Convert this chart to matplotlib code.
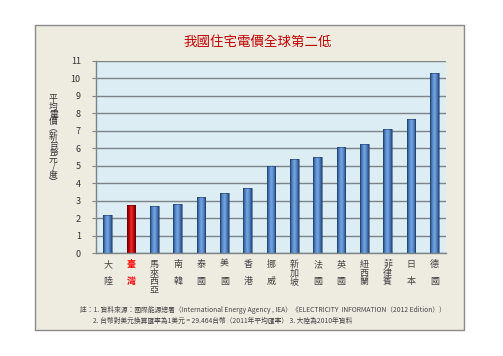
import matplotlib
matplotlib.use("Agg")
import matplotlib.pyplot as plt
import numpy as np
from matplotlib.patches import Rectangle
from matplotlib.colors import LinearSegmentedColormap

plt.rcParams['font.family'] = ['Noto Sans CJK TC', 'DejaVu Sans']

countries = ["大陸", "臺灣", "馬來西亞", "南韓", "泰國", "美國", "香港", "挪威",
             "新加坡", "法國", "英國", "紐西蘭", "菲律賓", "日本", "德國"]
prices = [2.2, 2.75, 2.72, 2.78, 3.2, 3.45, 3.75, 5.0, 5.38, 5.5, 6.05, 6.25, 7.12, 7.68, 10.33]
highlight = "臺灣"
yticks = list(range(0, 12))
title = "我國住宅電價全球第二低"
ylabel_chars = ["平", "均", "電", "價", "︵", "新", "台", "幣", "元", "/", "度", "︶"]
note1 = "註：1. 資料來源：國際能源總署（International Energy Agency , IEA）《ELECTRICITY  INFORMATION（2012 Edition））"
note2 = "2. 台幣對美元換算匯率為1美元 = 29.464台幣（2011年平均匯率） 3. 大陸為2010年資料"

fig = plt.figure(figsize=(5.03, 3.56), dpi=100)
fig.patch.set_facecolor("white")

# outer panel
panel = Rectangle((0.0696, 0.073), 0.853, 0.857, transform=fig.transFigure,
                  facecolor="#eeebe1", edgecolor="#8a8a8a", linewidth=1.0, zorder=-5)
fig.patches.append(panel)

ax = fig.add_axes([0.1909, 0.2893, 0.6958, 0.5394])
ax.set_zorder(1)
ax.set_facecolor("#dcedf4")
ax.set_xlim(-0.5, len(countries) - 0.5)
ax.set_ylim(0, 11)
ax.set_yticks(yticks)
ax.yaxis.grid(True, color="#7d8488", linewidth=1.0)
ax.set_axisbelow(True)
for s in ["top", "right"]:
    ax.spines[s].set_visible(False)
ax.spines["left"].set_color("#7d8488")
ax.spines["bottom"].set_color("#7d8488")
ax.spines["left"].set_linewidth(1.0)
ax.spines["bottom"].set_linewidth(1.0)
ax.tick_params(axis="y", length=3, color="#7d8488", labelsize=6.5, labelcolor="#333333", pad=8)
ax.tick_params(axis="x", length=0, pad=5)

blue_cmap = LinearSegmentedColormap.from_list("b", ["#244a7c", "#4f82c4", "#7aa8e0", "#4f82c4", "#23467a"])
red_cmap = LinearSegmentedColormap.from_list("r", ["#6e0000", "#c00000", "#e23a3a", "#c00000", "#6a0000"])
grad = np.linspace(0, 1, 64).reshape(1, -1)
width = 0.36
xs = np.arange(len(countries))
bars = ax.bar(xs, prices, width=width, color="none", edgecolor="#1f3c66", linewidth=0.4, zorder=3)
for b, c in zip(bars, countries):
    cmap = red_cmap if c == highlight else blue_cmap
    x0, y0 = b.get_x(), b.get_y()
    w, h = b.get_width(), b.get_height()
    im = ax.imshow(grad, cmap=cmap, aspect="auto", extent=(x0, x0 + w, y0, y0 + h), zorder=2.5,
                   interpolation="bilinear")
    im.set_clip_path(b)
    if c == highlight:
        b.set_edgecolor("#5a0000")
ax.set_xlim(-0.5, len(countries) - 0.5)
ax.set_ylim(0, 11)

labels = []
for c in countries:
    if len(c) == 2:
        labels.append(c[0] + "\n\n" + c[1])
    else:
        labels.append("\n".join(c))
ax.set_xticks(xs)
ax.set_xticklabels(labels, fontsize=6.5, color="#444444", linespacing=0.95, va="top")
for t, c in zip(ax.get_xticklabels(), countries):
    if c == highlight:
        t.set_color("#ff0000")
        t.set_fontweight("bold")

fig.text(0.512, 0.882, title, color="#c00000", fontsize=9.7, ha="center", va="center")
fig.text(0.106, 0.605, "\n".join(ylabel_chars), fontsize=6.3, color="#333333",
         ha="center", va="center", linespacing=0.8)
fig.text(0.159, 0.128, note1, fontsize=4.85, color="#444444", ha="left", va="center")
fig.text(0.185, 0.099, note2, fontsize=4.85, color="#444444", ha="left", va="center")

fig.savefig("out.png", dpi=100, facecolor="white")
